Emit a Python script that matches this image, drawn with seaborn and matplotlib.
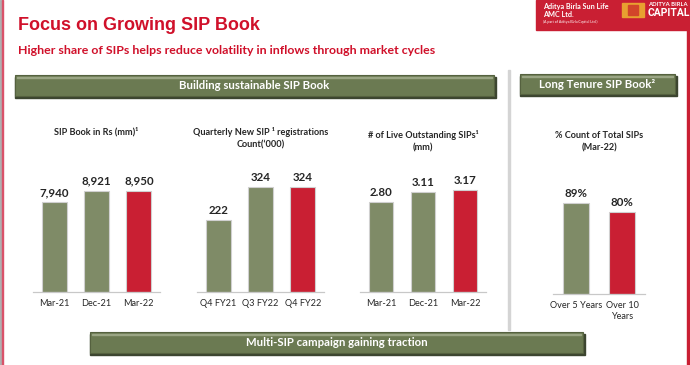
import matplotlib
matplotlib.use('Agg')
import matplotlib.pyplot as plt
import seaborn as sns
import pandas as pd
from matplotlib.patches import Rectangle

sns.set_style('white')
plt.rcParams['font.family'] = ['Lato', 'DejaVu Sans']

# data
book_cats = ['Mar-21', 'Dec-21', 'Mar-22']
book_vals = [7940, 8921, 8950]
book_lbls = ['7,940', '8,921', '8,950']

reg_cats = ['Q4 FY21', 'Q3 FY22', 'Q4 FY22']
reg_vals = [222, 324, 324]
reg_lbls = ['222', '324', '324']

live_cats = ['Mar-21', 'Dec-21', 'Mar-22']
live_vals = [2.80, 3.11, 3.17]
live_lbls = ['2.80', '3.11', '3.17']

ten_cats = ['Over 5 Years', 'Over 10\nYears']
ten_vals = [89, 80]
ten_lbls = ['89%', '80%']

GREEN = '#7f8b67'
RED = '#c91f33'
BANNER = '#6b7a52'
TXT = '#262626'

W, H = 690, 365
fig = plt.figure(figsize=(6.9, 3.65), dpi=100)


def px_axes(x0, x1, top, base):
    return fig.add_axes([x0 / W, (H - base) / H, (x1 - x0) / W, (base - top) / H])


def banner(x0, x1, y0, y1, text, fs=8.2):
    # shadow + body + highlight
    fig.patches.append(Rectangle((x0 / W, (H - y1 - 1.5) / H), (x1 - x0 + 1.5) / W, (y1 - y0) / H,
                                 transform=fig.transFigure, color='#3c4530', zorder=1))
    fig.patches.append(Rectangle((x0 / W, (H - y1) / H), (x1 - x0) / W, (y1 - y0) / H,
                                 transform=fig.transFigure, facecolor=BANNER,
                                 edgecolor='#55613f', lw=0.8, zorder=2))
    fig.patches.append(Rectangle(((x0 + 2) / W, (H - y0 - 3) / H), (x1 - x0 - 4) / W, 1.2 / H,
                                 transform=fig.transFigure, color='#9aa584', zorder=3))
    fig.text((x0 + x1) / 2 / W, (H - (y0 + y1) / 2) / H, text, color='white',
             fontsize=fs, fontweight='bold', ha='center', va='center', zorder=4)


def bar_panel(x0, x1, top, base, cats, vals, lbls, ymax, width, title, title_y):
    ax = px_axes(x0, x1, top, base)
    df = pd.DataFrame({'cat': cats, 'val': vals})
    cols = [GREEN] * (len(cats) - 1) + [RED]
    sns.barplot(data=df, x='cat', y='val', hue='cat', palette=cols, legend=False,
                saturation=1, width=width, edgecolor='#d0d0d0', linewidth=0.8, ax=ax)
    ax.set_ylim(0, ymax)
    ax.set_xlim(-0.5, len(cats) - 0.5)
    for s in ['top', 'left', 'right']:
        ax.spines[s].set_visible(False)
    ax.spines['bottom'].set_color('#c8c8c8')
    ax.spines['bottom'].set_linewidth(0.9)
    ax.set_yticks([])
    ax.set_xlabel('')
    ax.set_ylabel('')
    ax.set_xticks(range(len(cats)))
    ax.set_xticklabels(cats, fontsize=6.6, color=TXT, linespacing=1.3)
    ax.tick_params(axis='x', which='major', length=0, pad=5)
    ax.set_xticks([i - 0.5 for i in range(len(cats) + 1)], minor=True)
    ax.tick_params(axis='x', which='minor', length=3, color='#c8c8c8', width=0.9)
    for c, l in zip(ax.containers, lbls):
        ax.bar_label(c, labels=[l], padding=3, fontsize=8.3, color=TXT, fontweight='bold')
    fig.text((x0 + x1) / 2 / W, (H - title_y) / H, title, fontsize=6.6, fontweight='bold',
             color=TXT, ha='center', va='top', linespacing=1.45)
    return ax


# frame lines
fig.patches.append(Rectangle((0, 0), 1.2 / W, 1, transform=fig.transFigure, color='#b0b0b0'))
fig.patches.append(Rectangle((2 / W, 0), 1.3 / W, 1, transform=fig.transFigure, color='#d9536a'))
fig.patches.append(Rectangle((687 / W, 0), 1.5 / W, (H - 29) / H, transform=fig.transFigure, color=RED))
fig.patches.append(Rectangle((508 / W, 35 / H), 1.5 / W, 260 / H, transform=fig.transFigure,
                             color='#d4d4d4'))

# top right header block
fig.patches.append(Rectangle((536 / W, (H - 30) / H), 154 / W, 30 / H, transform=fig.transFigure,
                             color=RED))
fig.text(543 / W, (H - 3) / H, 'Aditya Birla Sun Life\nAMC Ltd.', color='white', fontsize=5.2,
         fontweight='bold', va='top', ha='left', linespacing=1.2)
fig.text(543 / W, (H - 22) / H, '(A part of Aditya Birla Capital Ltd.)', color='white',
         fontsize=2.6, va='center', ha='left')
fig.patches.append(Rectangle((622 / W, (H - 17) / H), 22 / W, 14 / H, transform=fig.transFigure,
                             color='#e8a030'))
fig.patches.append(Rectangle((628 / W, (H - 15) / H), 10 / W, 10 / H, transform=fig.transFigure,
                             color='#d2452a'))
fig.text(648 / W, (H - 5) / H, 'ADITYA BIRLA', color='white', fontsize=4.2, fontweight='bold',
         va='center', ha='left')
fig.text(648 / W, (H - 13) / H, 'CAPITAL', color='white', fontsize=7.5, fontweight='bold',
         va='center', ha='left', family=['Roboto', 'DejaVu Sans'])

# titles
fig.text(18 / W, (H - 25) / H, 'Focus on Growing SIP Book', color='#d0102a', fontsize=13,
         fontweight='bold', va='center', ha='left', family=['Liberation Sans', 'DejaVu Sans'])
fig.text(18 / W, (H - 50) / H, 'Higher share of SIPs helps reduce volatility in inflows through market cycles',
         color='#d0102a', fontsize=8.9, fontweight='bold', va='center', ha='left')

banner(15, 494, 75, 96, 'Building sustainable SIP Book')
banner(520, 675, 74, 94, 'Long Tenure SIP Book²')
banner(90, 583, 332, 353, 'Multi-SIP campaign gaining traction')

bar_panel(33, 160, 150, 292, book_cats, book_vals, book_lbls, 12533, 0.59,
          'SIP Book in Rs (mm)¹', 127)
bar_panel(197, 324, 150, 292, reg_cats, reg_vals, reg_lbls, 438, 0.59,
          'Quarterly New SIP ¹ registrations\nCount(‘000)', 127)
bar_panel(360, 486, 150, 292, live_cats, live_vals, live_lbls, 4.42, 0.59,
          '# of Live Outstanding SIPs¹\n(mm)', 130)
bar_panel(553, 645, 150, 294, ten_cats, ten_vals, ten_lbls, 141, 0.58,
          '% Count of Total SIPs\n(Mar-22)', 131)

fig.savefig('out.png', dpi=100)
